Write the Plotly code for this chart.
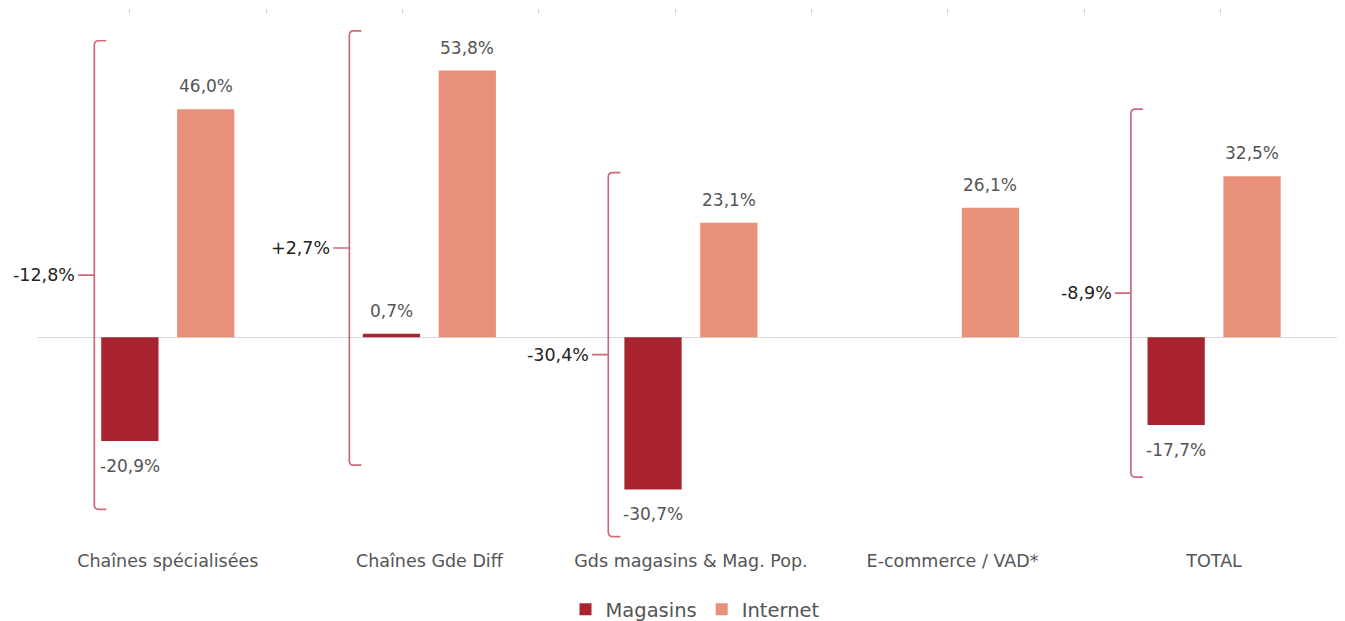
import plotly.graph_objects as go

# ---- data ----
categories = ["Chaînes spécialisées", "Chaînes Gde Diff", "Gds magasins & Mag. Pop.",
              "E-commerce / VAD*", "TOTAL"]
magasins = [-20.9, 0.7, -30.7, None, -17.7]
internet = [46.0, 53.8, 23.1, 26.1, 32.5]
totals = ["-12,8%", "+2,7%", "-30,4%", None, "-8,9%"]

def fmt(v):
    return ("%.1f%%" % v).replace(".", ",")

# ---- styling / layout helpers ----
C_MAG = "#a8232f"
C_INT = "#e8907a"
C_BRACKET = "#cd6a77"
FONT = "DejaVu Sans"
BARGAP = 0.42
BARGROUPGAP = 0.245
OFF = (1 - BARGAP) / 4  # centre offset of each bar in a group

# bracket geometry (x offset from group centre, top and bottom in axis units)
bracket_dx = [-0.281, -0.306, -0.316, None, -0.318]
bracket_top = [59.8, 61.8, 33.2, None, 46.0]
bracket_bot = [-34.7, -25.8, -40.2, None, -28.2]

x_idx = list(range(len(categories)))

fig = go.Figure()
fig.add_trace(go.Bar(name="Magasins", x=x_idx, y=magasins, marker_color=C_MAG,
                     marker_line_width=0))
fig.add_trace(go.Bar(name="Internet", x=x_idx, y=internet, marker_color=C_INT,
                     marker_line_width=0))
# dummy trace to carry the top tick axis
fig.add_trace(go.Scatter(x=[], y=[], xaxis="x2", showlegend=False, hoverinfo="skip"))

annotations = []
for i in x_idx:
    for vals, sign in ((magasins, -1), (internet, 1)):
        v = vals[i]
        if v is None:
            continue
        annotations.append(dict(
            x=i + sign * OFF, y=v, xref="x", yref="y", text=fmt(v), showarrow=False,
            yshift=23 if v >= 0 else -25, yanchor="middle", xanchor="center",
            font=dict(family=FONT, size=17, color="#555555")))

shapes = []
HOOK = 0.046
RX = 0.016
RY = 0.9
TICK = 0.062
for i in x_idx:
    if totals[i] is None:
        continue
    bx = i + bracket_dx[i]
    top, bot = bracket_top[i], bracket_bot[i]
    mid = (top + bot) / 2
    path = (f"M {bx + HOOK},{top} L {bx + RX},{top} Q {bx},{top} {bx},{top - RY} "
            f"L {bx},{bot + RY} Q {bx},{bot} {bx + RX},{bot} L {bx + HOOK},{bot} "
            f"M {bx},{mid} L {bx - TICK},{mid}")
    shapes.append(dict(type="path", path=path, xref="x", yref="y",
                       line=dict(color=C_BRACKET, width=1.7)))
    annotations.append(dict(
        x=bx - TICK, y=mid, xref="x", yref="y", text=totals[i], showarrow=False,
        xanchor="right", yanchor="middle", xshift=-1,
        font=dict(family=FONT, size=17.5, color="#222222")))

fig.update_layout(
    width=1345, height=621,
    margin=dict(l=29, r=0, t=6, b=83),
    paper_bgcolor="white", plot_bgcolor="white",
    barmode="group", bargap=BARGAP, bargroupgap=BARGROUPGAP,
    font=dict(family=FONT, color="#555555"),
    xaxis=dict(range=[-0.5, 4.531], tickmode="array", tickvals=x_idx, ticktext=categories,
               showgrid=False, zeroline=False, showline=False,
               ticks="outside", ticklen=0, tickcolor="rgba(0,0,0,0)",
               tickfont=dict(family=FONT, size=17.5, color="#555555")),
    xaxis2=dict(overlaying="x", side="top", anchor="y", range=[-0.682, 8.973],
                tickmode="linear", tick0=0, dtick=1, ticks="outside", ticklen=4,
                tickcolor="#cccccc", showticklabels=False, showgrid=False,
                zeroline=False, showline=False),
    yaxis=dict(range=[-41.9, 65.2], showticklabels=False, showgrid=False,
               zeroline=True, zerolinecolor="#d9d9d9", zerolinewidth=1, showline=False),
    legend=dict(orientation="h", x=0.5, xanchor="center", y=-0.122, yanchor="middle",
                itemwidth=30,
                font=dict(family=FONT, size=19.5, color="#555555"), traceorder="normal"),
    showlegend=True,
    annotations=annotations, shapes=shapes,
)

fig.write_html("out.html")
